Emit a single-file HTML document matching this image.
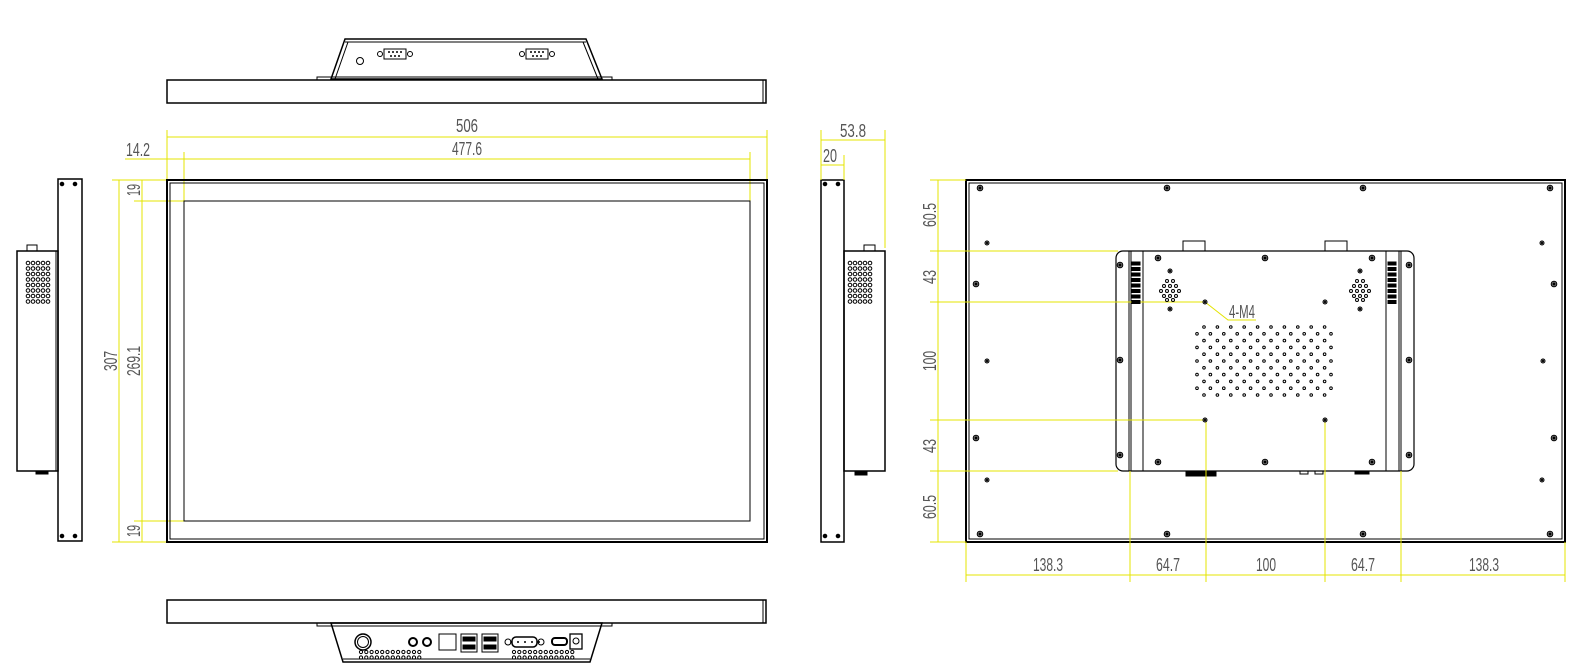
<!DOCTYPE html>
<html><head><meta charset="utf-8"><style>
html,body{margin:0;padding:0;background:#fff;}
svg{display:block;}
.d{stroke:#e4e400;stroke-width:1;fill:none;}
.k{stroke:#000;fill:none;stroke-width:1;}
.t{font-family:"Liberation Sans",sans-serif;font-size:18px;fill:#555;}
</style></head><body>
<svg id="s" width="1579" height="672" viewBox="0 0 1579 672" xmlns="http://www.w3.org/2000/svg">
<g class="k">
<rect x="167" y="80" width="599" height="23" stroke-width="1.5"/>
<line x1="763" y1="80" x2="763" y2="103"/>
<rect x="317" y="77" width="295" height="3"/>
<polygon points="331,79 345,39 586,39 602,79" stroke-width="1.5"/>
<line x1="345" y1="42" x2="586" y2="42"/>
<line x1="335" y1="79" x2="348" y2="42"/>
<line x1="598" y1="79" x2="583" y2="42"/>
<circle cx="360" cy="61" r="3.5"/>
</g>
<g class="d">
<line x1="167" y1="130" x2="167" y2="180"/><line x1="767" y1="130" x2="767" y2="180"/>
<line x1="167" y1="137" x2="767" y2="137"/>
<line x1="184" y1="152" x2="184" y2="201"/><line x1="750" y1="152" x2="750" y2="201"/>
<line x1="125" y1="159" x2="750" y2="159"/>
<line x1="112" y1="180" x2="167" y2="180"/><line x1="134" y1="201" x2="184" y2="201"/>
<line x1="134" y1="521" x2="184" y2="521"/><line x1="112" y1="542" x2="167" y2="542"/>
<line x1="119" y1="180" x2="119" y2="542"/><line x1="142" y1="180" x2="142" y2="542"/>
</g>
<text class="t" x="467" y="132" text-anchor="middle" textLength="22" lengthAdjust="spacingAndGlyphs">506</text>
<text class="t" x="467" y="155" text-anchor="middle" textLength="30" lengthAdjust="spacingAndGlyphs">477.6</text>
<text class="t" x="138" y="156" text-anchor="middle" textLength="24" lengthAdjust="spacingAndGlyphs">14.2</text>
<text class="t" transform="translate(117,361) rotate(-90)" text-anchor="middle" textLength="20" lengthAdjust="spacingAndGlyphs">307</text>
<text class="t" transform="translate(140,361) rotate(-90)" text-anchor="middle" textLength="30" lengthAdjust="spacingAndGlyphs">269.1</text>
<text class="t" transform="translate(140,190) rotate(-90)" text-anchor="middle" textLength="12" lengthAdjust="spacingAndGlyphs">19</text>
<text class="t" transform="translate(140,531) rotate(-90)" text-anchor="middle" textLength="12" lengthAdjust="spacingAndGlyphs">19</text>
<g class="k">
<rect x="167" y="180" width="600" height="362" stroke-width="2"/>
<rect x="170" y="183" width="594" height="356"/>
<rect x="184" y="201" width="566" height="320"/>
</g>
<g class="k">
<rect x="58" y="179" width="24" height="362" stroke-width="1.5"/>
<rect x="17" y="251" width="41" height="220" stroke-width="1.5"/>
<line x1="56" y1="251" x2="56" y2="471"/>
<rect x="27" y="245" width="10" height="6"/>
<rect x="36" y="471" width="12" height="3" fill="#000"/>
</g>
<g class="k">
<rect x="821" y="180" width="23" height="362" stroke-width="1.5"/>
<rect x="844" y="251" width="41" height="220" stroke-width="1.5"/>
<rect x="864" y="245" width="11" height="6"/>
<rect x="855" y="471" width="12" height="4" fill="#000"/>
</g>
<g class="d">
<line x1="821" y1="130" x2="821" y2="180"/><line x1="885" y1="130" x2="885" y2="248"/>
<line x1="844" y1="155" x2="844" y2="180"/>
<line x1="821" y1="140" x2="885" y2="140"/><line x1="821" y1="165" x2="844" y2="165"/>
</g>
<text class="t" x="853" y="137" text-anchor="middle" textLength="26" lengthAdjust="spacingAndGlyphs">53.8</text>
<text class="t" x="830" y="162" text-anchor="middle" textLength="14" lengthAdjust="spacingAndGlyphs">20</text>
<g class="k">
<rect x="966" y="180" width="599" height="362" stroke-width="2"/>
<rect x="969" y="183" width="593" height="356"/>
<rect x="1116" y="251" width="298" height="220" rx="7" stroke-width="1.2"/>
<line x1="1129" y1="251" x2="1129" y2="471"/><line x1="1131" y1="251" x2="1131" y2="471"/>
<line x1="1143" y1="251" x2="1143" y2="471"/>
<line x1="1386" y1="251" x2="1386" y2="471"/>
<line x1="1399" y1="251" x2="1399" y2="471"/><line x1="1401" y1="251" x2="1401" y2="471"/>
<rect x="1183" y="241" width="22" height="10"/><rect x="1325" y="241" width="22" height="10"/>
<rect x="1186" y="471" width="30" height="5" fill="#000"/>
<rect x="1300" y="471" width="8" height="3"/><rect x="1315" y="471" width="8" height="3"/>
<rect x="1355" y="471" width="14" height="3" fill="#000"/>
</g>
<g class="d">
<line x1="930" y1="180" x2="966" y2="180"/><line x1="930" y1="542" x2="966" y2="542"/>
<line x1="930" y1="251" x2="1118" y2="251"/><line x1="930" y1="302" x2="1205" y2="302"/>
<line x1="930" y1="420" x2="1205" y2="420"/><line x1="930" y1="471" x2="1118" y2="471"/>
<line x1="938" y1="180" x2="938" y2="542"/>
<line x1="966" y1="542" x2="966" y2="582"/><line x1="1565" y1="542" x2="1565" y2="582"/>
<line x1="1130" y1="471" x2="1130" y2="582"/><line x1="1206" y1="420" x2="1206" y2="582"/>
<line x1="1325" y1="420" x2="1325" y2="582"/><line x1="1401" y1="471" x2="1401" y2="582"/>
<line x1="966" y1="575" x2="1565" y2="575"/>
</g>
<g class="t">
<text transform="translate(936,215) rotate(-90)" text-anchor="middle" textLength="24" lengthAdjust="spacingAndGlyphs">60.5</text>
<text transform="translate(936,277) rotate(-90)" text-anchor="middle" textLength="14" lengthAdjust="spacingAndGlyphs">43</text>
<text transform="translate(936,361) rotate(-90)" text-anchor="middle" textLength="20" lengthAdjust="spacingAndGlyphs">100</text>
<text transform="translate(936,446) rotate(-90)" text-anchor="middle" textLength="14" lengthAdjust="spacingAndGlyphs">43</text>
<text transform="translate(936,507) rotate(-90)" text-anchor="middle" textLength="24" lengthAdjust="spacingAndGlyphs">60.5</text>
<text x="1048" y="571" text-anchor="middle" textLength="30" lengthAdjust="spacingAndGlyphs">138.3</text>
<text x="1168" y="571" text-anchor="middle" textLength="24" lengthAdjust="spacingAndGlyphs">64.7</text>
<text x="1266" y="571" text-anchor="middle" textLength="20" lengthAdjust="spacingAndGlyphs">100</text>
<text x="1363" y="571" text-anchor="middle" textLength="24" lengthAdjust="spacingAndGlyphs">64.7</text>
<text x="1484" y="571" text-anchor="middle" textLength="30" lengthAdjust="spacingAndGlyphs">138.3</text>
<text x="1242" y="318" text-anchor="middle" textLength="26" lengthAdjust="spacingAndGlyphs">4-M4</text>
</g>
<polyline class="d" points="1205,302 1228,320 1256,320"/>
<g class="k">
<rect x="167" y="600" width="599" height="23" stroke-width="1.5"/>
<line x1="763" y1="600" x2="763" y2="623"/>
<rect x="317" y="623" width="295" height="3"/>
<polygon points="331,623 343,662 590,662 602,623" stroke-width="1.5"/>
<line x1="343" y1="659" x2="590" y2="659"/>
<circle cx="363" cy="642" r="8" stroke-width="1.5"/><circle cx="363" cy="642" r="5.5"/>
<circle cx="413" cy="642" r="4" stroke-width="2"/><circle cx="427" cy="642" r="4" stroke-width="2"/>
<rect x="439" y="634" width="17" height="16"/>
<rect x="461" y="634" width="16" height="18"/><rect x="463" y="637" width="12" height="4" fill="#000"/><rect x="463" y="645" width="12" height="4" fill="#000"/>
<rect x="482" y="634" width="16" height="18"/><rect x="484" y="637" width="12" height="4" fill="#000"/><rect x="484" y="645" width="12" height="4" fill="#000"/>
<rect x="512" y="637" width="25" height="10" rx="4" stroke-width="1.5"/>
<circle cx="508" cy="642" r="3"/><circle cx="541" cy="642" r="3"/>
<rect x="552" y="638" width="15" height="7" rx="3" stroke-width="2"/>
<rect x="570" y="634" width="12" height="15" stroke-width="1.3"/><circle cx="576" cy="641" r="3"/>
</g>
<g id="dots"></g>
</svg>
<script>
var NS="http://www.w3.org/2000/svg",g=document.getElementById("dots");
function c(x,y,r,f,sw){var e=document.createElementNS(NS,"circle");e.setAttribute("cx",x);e.setAttribute("cy",y);e.setAttribute("r",r);e.setAttribute("fill",f||"none");e.setAttribute("stroke","#000");e.setAttribute("stroke-width",sw||1);g.appendChild(e);}
function r(x,y,w,h,f){var e=document.createElementNS(NS,"rect");e.setAttribute("x",x);e.setAttribute("y",y);e.setAttribute("width",w);e.setAttribute("height",h);e.setAttribute("fill",f||"none");e.setAttribute("stroke","#000");e.setAttribute("stroke-width",1);g.appendChild(e);}
for(var i=0;i<5;i++)for(var j=0;j<8;j++){c(28+i*5,263+j*5.5,1.8);c(850+i*5,263+j*5.5,1.8);}
[[62,184],[75,184],[62,536],[75,536],[825,184],[838,184],[825,536],[838,536]].forEach(function(p){c(p[0],p[1],1.8,"#000");});
[395,537].forEach(function(x){r(x-11,49,22,10,"none");c(x-15,54,2.5);c(x+15,54,2.5);for(var k=0;k<4;k++)c(x-6+k*4,52,0.5,"#000");for(var k=0;k<3;k++)c(x-4+k*4,56,0.5,"#000");});
for(var k=0;k<12;k++){c(361+k*5.3,652,1.6);c(361+k*5.3,657.5,1.6);c(514+k*5.3,652,1.6);c(514+k*5.3,657.5,1.6);}
for(var k=0;k<5;k++)c(511+k*7,642,0.5,"#000");
function sc(x,y){c(x,y,2.8,"#888",1);c(x,y,1,"#000");}
[[980,188],[1167,188],[1363,188],[1550,188],[980,534],[1167,534],[1363,534],[1550,534],
 [976,284],[976,438],[1554,284],[1554,438],
 [1120,265],[1120,360],[1120,455],[1409,265],[1409,360],[1409,455],
 [1158,258],[1265,258],[1372,258],[1158,462],[1265,462],[1372,462]].forEach(function(p){sc(p[0],p[1]);});
function sm(x,y){c(x,y,2,"#999",1);c(x,y,0.6,"#000");}
[[987,243],[987,361],[987,480],[1542,243],[1543,361],[1542,480],[1170,271],[1170,309],[1360,271],[1360,309],[1205,302],[1325,302],[1205,420],[1325,420]].forEach(function(p){sm(p[0],p[1]);});
[1170,1360].forEach(function(x){
 [[-3,-9],[3,-9],[-6,-4],[0,-4],[6,-4],[-9,1],[-3,1],[3,1],[9,1],[-6,6],[0,6],[6,6],[-3,10],[3,10]].forEach(function(p){c(x+p[0],290+p[1],1.5);});});
for(var k=0;k<8;k++){r(1132,262+k*5.5,8,3,"#000");r(1388,262+k*5.5,8,3,"#000");}
for(var row=0;row<11;row++){var n=row%2?11:10,x0=row%2?1197:1204;for(var k=0;k<n;k++)c(x0+k*13.4,327+row*6.8,1.3);}
</script>
</body></html>
